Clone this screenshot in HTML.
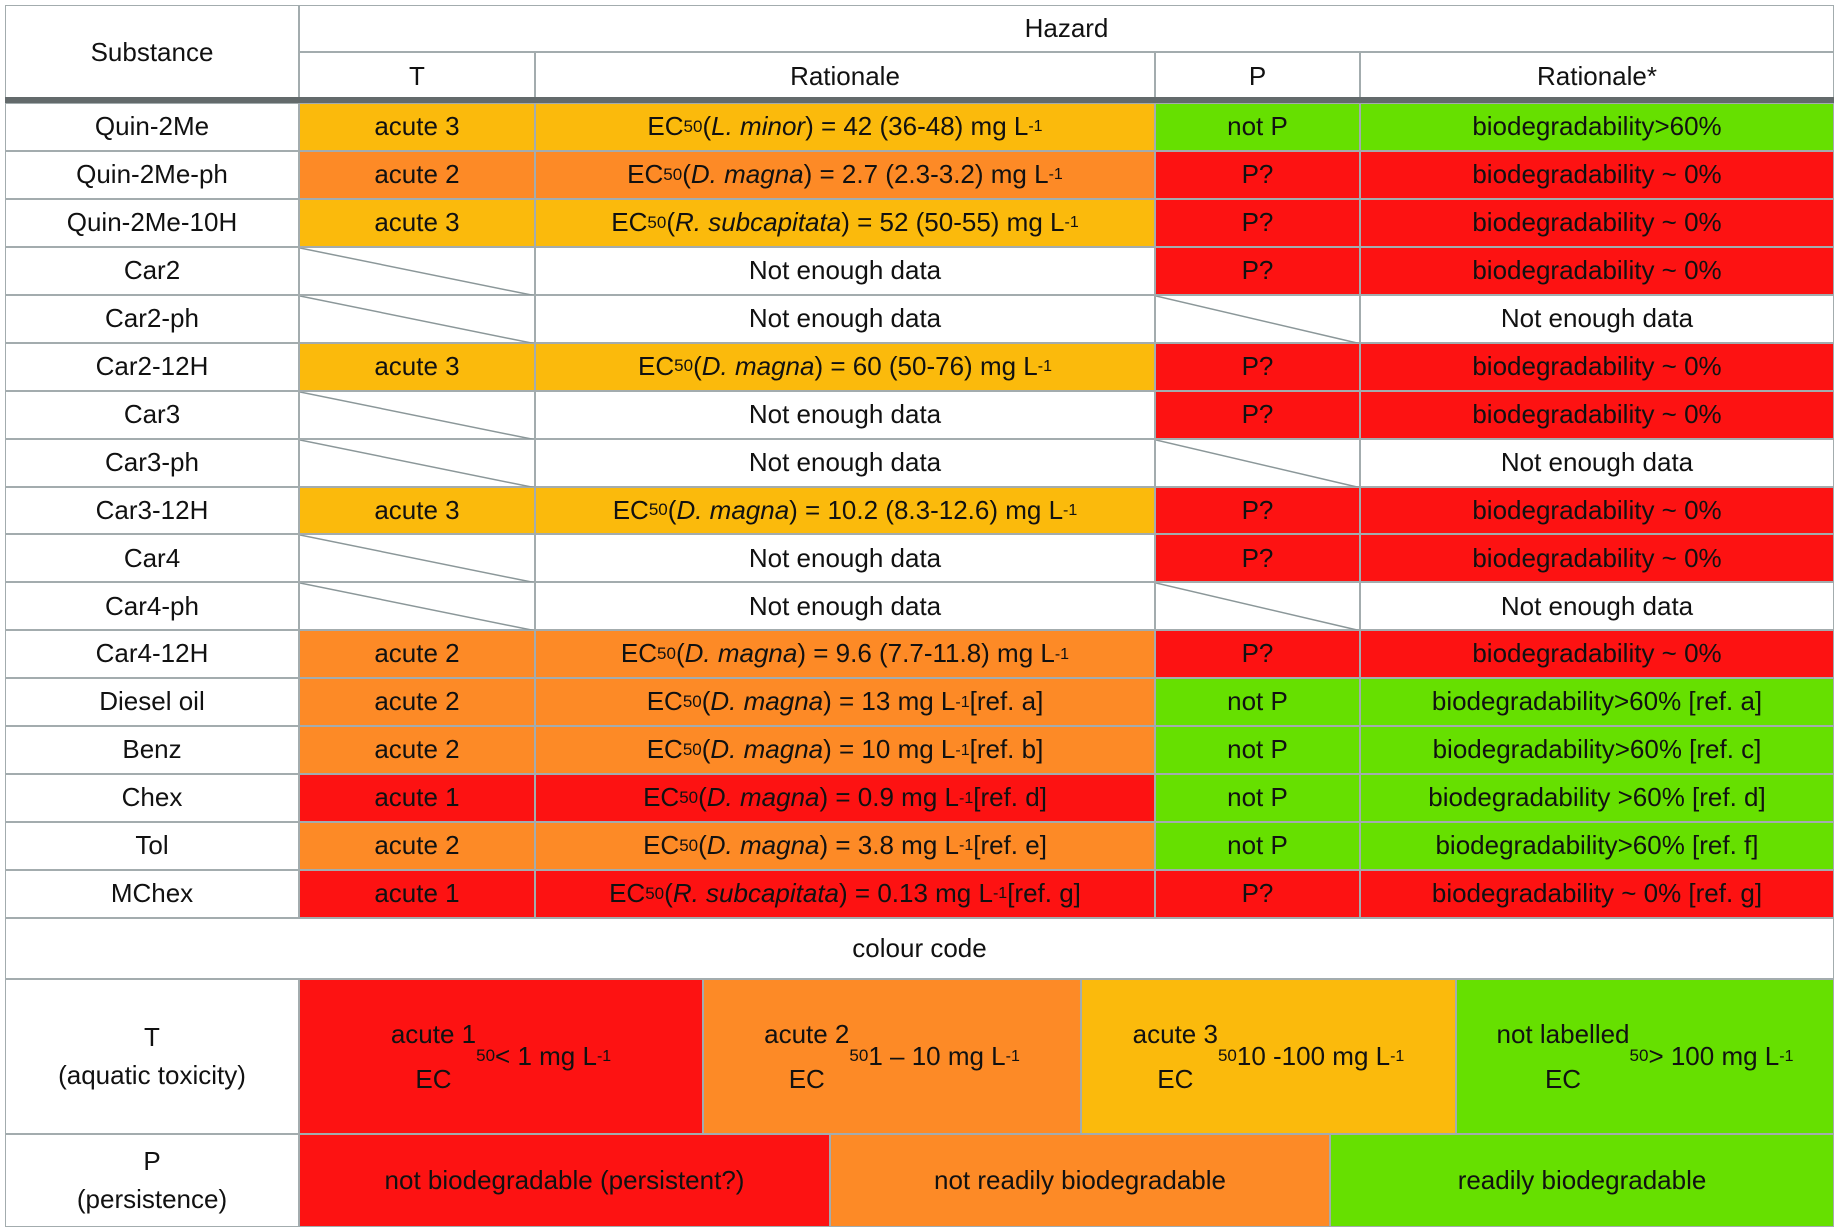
<!DOCTYPE html>
<html><head><meta charset="utf-8">
<style>
body{margin:0;background:#fff;}
#t{position:relative;width:1838px;height:1232px;overflow:hidden;font-family:"Liberation Sans Narrow","Liberation Sans",sans-serif;font-size:26px;color:#111;}
.c{position:absolute;box-sizing:border-box;border:1.5px solid #a3acae;display:flex;align-items:center;justify-content:center;text-align:center;white-space:nowrap;line-height:1.45;}
sub{font-size:17px;vertical-align:-4px;}
sup{font-size:16px;vertical-align:12px;}
.c svg{position:absolute;left:0;top:0;}
</style></head><body>
<div id="t"></div>
<script>
const cols=[5,299,535,1155,1360,1834];
const rowTop=103, rowH=47.94;
const names=["Quin-2Me","Quin-2Me-ph","Quin-2Me-10H","Car2","Car2-ph","Car2-12H","Car3","Car3-ph","Car3-12H","Car4","Car4-ph","Car4-12H","Diesel oil","Benz","Chex","Tol","MChex"];
const tClass=["acute 3","acute 2","acute 3","","","acute 3","","","acute 3","","","acute 2","acute 2","acute 2","acute 1","acute 2","acute 1"];
const tRat=[
"EC<sub>50</sub> (<i>L. minor</i>) = 42 (36-48) mg L<sup>-1</sup>",
"EC<sub>50</sub> (<i>D. magna</i>) = 2.7 (2.3-3.2) mg L<sup>-1</sup>",
"EC<sub>50</sub> (<i>R. subcapitata</i>) = 52 (50-55) mg L<sup>-1</sup>",
"Not enough data","Not enough data",
"EC<sub>50</sub> (<i>D. magna</i>) = 60 (50-76) mg L<sup>-1</sup>",
"Not enough data","Not enough data",
"EC<sub>50</sub> (<i>D. magna</i>) = 10.2 (8.3-12.6) mg L<sup>-1</sup>",
"Not enough data","Not enough data",
"EC<sub>50</sub> (<i>D. magna</i>) = 9.6 (7.7-11.8) mg L<sup>-1</sup>",
"EC<sub>50</sub> (<i>D. magna</i>) = 13 mg L<sup>-1</sup> [ref. a]",
"EC<sub>50</sub> (<i>D. magna</i>) = 10 mg L<sup>-1</sup> [ref. b]",
"EC<sub>50</sub> (<i>D. magna</i>) = 0.9 mg L<sup>-1</sup> [ref. d]",
"EC<sub>50</sub> (<i>D. magna</i>) = 3.8 mg L<sup>-1</sup> [ref. e]",
"EC<sub>50</sub> (<i>R. subcapitata</i>) = 0.13 mg L<sup>-1</sup> [ref. g]"];
const pClass=["not P","P?","P?","P?","","P?","P?","","P?","P?","","P?","not P","not P","not P","not P","P?"];
const pRat=["biodegradability>60%","biodegradability ~ 0%","biodegradability ~ 0%","biodegradability ~ 0%","Not enough data","biodegradability ~ 0%","biodegradability ~ 0%","Not enough data","biodegradability ~ 0%","biodegradability ~ 0%","Not enough data","biodegradability ~ 0%","biodegradability>60% [ref. a]","biodegradability>60% [ref. c]","biodegradability >60% [ref. d]","biodegradability>60% [ref. f]","biodegradability ~ 0% [ref. g]"];
const colour={"acute 1":"#fd1212","acute 2":"#fd8a26","acute 3":"#fbba0c","not P":"#66e000","P?":"#fd1212"};
const T=document.getElementById('t');
function cell(x1,y1,x2,y2,html,bg,name){
  const d=document.createElement('div');
  d.className='c';
  d.style.left=x1+'px';d.style.top=y1+'px';d.style.width=(x2-x1)+'px';d.style.height=(y2-y1)+'px';
  if(bg)d.style.background=bg;
  d.innerHTML=html;
  
  
  T.appendChild(d);return d;
}
function diag(d,w,h){
  d.innerHTML='<svg width="'+w+'" height="'+h+'"><line x1="0" y1="0" x2="'+w+'" y2="'+h+'" stroke="#8b9799" stroke-width="1.5"/></svg>';
}
// header
cell(cols[0],5,cols[1],101,"Substance",null,"substance-header");
cell(cols[1],5,cols[5],52,"Hazard",null,"hazard-header");
cell(cols[1],52,cols[2],101,"T",null,"t-header");
cell(cols[2],52,cols[3],101,"Rationale",null,"t-rationale-header");
cell(cols[3],52,cols[4],101,"P",null,"p-header");
cell(cols[4],52,cols[5],101,"Rationale*",null,"p-rationale-header");
const bar=document.createElement('div');
bar.style.cssText='position:absolute;left:5px;top:97px;width:1829px;height:6px;background:#636a6b;';


T.appendChild(bar);
for(let i=0;i<names.length;i++){
  const y1=rowTop+i*rowH,y2=y1+rowH;
  cell(cols[0],y1,cols[1],y2,names[i],null,"substance-name");
  const tc=cell(cols[1],y1,cols[2],y2,tClass[i],colour[tClass[i]],"t-class");
  if(!tClass[i])diag(tc,cols[2]-cols[1],y2-y1);
  cell(cols[2],y1,cols[3],y2,tRat[i],colour[tClass[i]],"t-rationale");
  const pc=cell(cols[3],y1,cols[4],y2,pClass[i],colour[pClass[i]],"p-class");
  if(!pClass[i])diag(pc,cols[4]-cols[3],y2-y1);
  cell(cols[4],y1,cols[5],y2,pRat[i],pClass[i]?colour[pClass[i]]:null,"p-rationale");
}
// legend
cell(cols[0],918,cols[5],979,"colour code",null,"colour-code-title");
cell(cols[0],979,299,1134,"T<br>(aquatic toxicity)",null,"t-legend-label");
const lx=[299,703,1081,1456,1834];
const lt=["acute 1<br>EC<sub>50</sub> &lt; 1 mg L<sup>-1</sup>","acute 2<br>EC<sub>50</sub> 1 – 10 mg L<sup>-1</sup>","acute 3<br>EC<sub>50</sub> 10 -100 mg L<sup>-1</sup>","not labelled<br>EC<sub>50</sub>&gt; 100 mg L<sup>-1</sup>"];
const lc=["#fd1212","#fd8a26","#fbba0c","#66e000"];
for(let i=0;i<4;i++){const d=cell(lx[i],979,lx[i+1],1134,lt[i],lc[i],"t-legend-entry");d.style.lineHeight='1.7';}
cell(cols[0],1134,299,1227,"P<br>(persistence)",null,"p-legend-label");
const px=[299,830,1330,1834];
const pt=["not biodegradable (persistent?)","not readily biodegradable","readily biodegradable"];
const pcol=["#fd1212","#fd8a26","#66e000"];
for(let i=0;i<3;i++)cell(px[i],1134,px[i+1],1227,pt[i],pcol[i],"p-legend-entry");
</script>
</body></html>
